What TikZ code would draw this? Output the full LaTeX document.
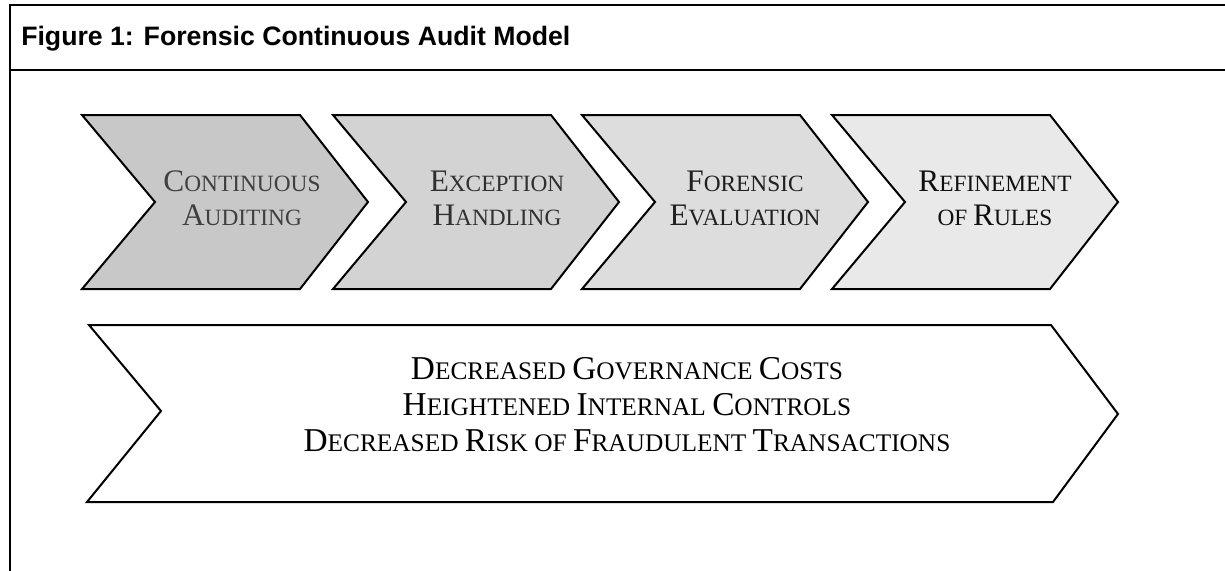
\documentclass[tikz,border=0pt]{standalone}
\usepackage{fontspec}
\setmainfont{Liberation Serif}
\newfontfamily\titlefont{Liberation Sans}
\newcommand\tsc[2]{{\fontsize{23.5}{25.5}\selectfont #1}{\fontsize{17.5}{25.5}\selectfont #2}}
\newcommand\bsc[2]{{\fontsize{25}{27}\selectfont #1}{\fontsize{19}{27}\selectfont #2}}
\definecolor{fillA}{RGB}{200,200,200}
\definecolor{fillB}{RGB}{211,211,211}
\definecolor{fillC}{RGB}{221,221,221}
\definecolor{fillD}{RGB}{233,233,233}
\definecolor{txtA}{RGB}{64,64,64}
\definecolor{txtB}{RGB}{48,48,48}
\definecolor{txtC}{RGB}{32,32,32}
\definecolor{txtD}{RGB}{16,16,16}
\begin{document}
\begin{tikzpicture}[x=0.75pt,y=-0.75pt,
  frame/.style={draw=black,line width=1.5pt},
  chev/.style={draw=black,line width=1.5pt,line join=miter},
  chevtext/.style={align=center,inner sep=0pt,font=\fontsize{23.5}{25.5}\selectfont},
  outtext/.style={align=center,inner sep=0pt,text=black,font=\fontsize{25}{27}\selectfont}]
\useasboundingbox (0,0) rectangle (1225,571);
\draw[frame] (1225,5) -- (10,5) -- (10,571);
\draw[frame] (10,70) -- (1225,70);
\node[anchor=base west,inner sep=0pt,font=\titlefont\bfseries\fontsize{20}{24}\selectfont] (title) at (21,45) {Figure 1: Forensic Continuous Audit Model};
% chevrons
\foreach \L/\fc in {82/fillA,333/fillB,582/fillC,832/fillD}{
  \draw[chev,fill=\fc] (\L,115) -- ++(218,0) -- ++(68,87) -- ++(-68,87) -- ++(-218,0) -- ++(73,-87) -- cycle;
}
\node[chevtext,text=txtA] (ca) at (242,198) {\tsc{C}{ONTINUOUS}\\\tsc{A}{UDITING}};
\node[chevtext,text=txtB] (eh) at (497,198) {\tsc{E}{XCEPTION}\\\tsc{H}{ANDLING}};
\node[chevtext,text=txtC] (fe) at (745,198) {\tsc{F}{ORENSIC}\\\tsc{E}{VALUATION}};
\node[chevtext,text=txtD] (rr) at (995,198) {\tsc{R}{EFINEMENT}\\\tsc{}{OF }\tsc{R}{ULES}};
% bottom chevron
\draw[chev] (89,325) -- (1051,325) -- (1118,414) -- (1053,502) -- (87,502) -- (161,411) -- cycle;
\node[outtext] (out) at (627,405) {\bsc{D}{ECREASED }\bsc{G}{OVERNANCE }\bsc{C}{OSTS}\\
\bsc{H}{EIGHTENED }\bsc{I}{NTERNAL }\bsc{C}{ONTROLS}\\
\bsc{D}{ECREASED }\bsc{R}{ISK OF }\bsc{F}{RAUDULENT }\bsc{T}{RANSACTIONS}};
\end{tikzpicture}
\end{document}
